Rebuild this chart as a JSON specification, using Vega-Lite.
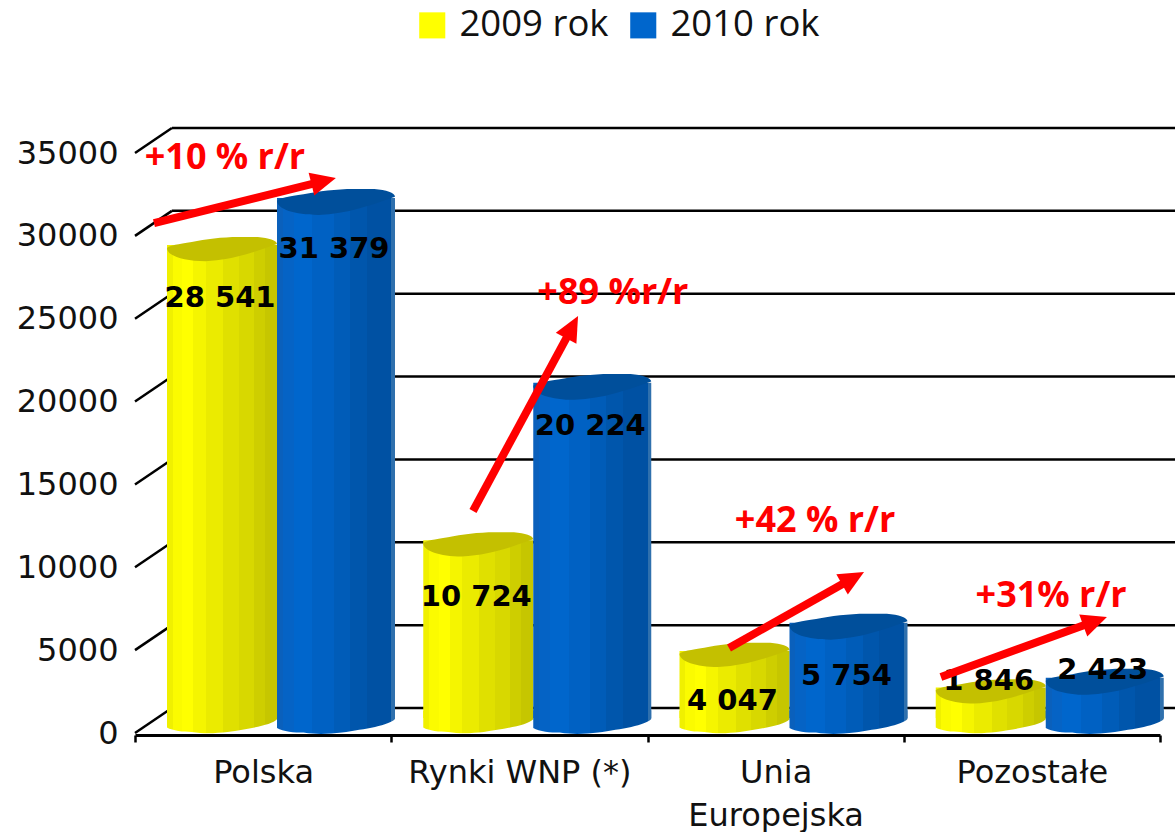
{
"$schema":"https://vega.github.io/schema/vega-lite/v6.json",
"width":1025,"height":580,
"autosize":{"type":"none"},
"padding":{"left":135,"top":153,"right":15,"bottom":99},
"background":"white",
"config":{"view":{"stroke":null}},
"datasets":{
"bars":[
{"rynek":"Polska","seria":"2009 rok","wartosc":28541,"etykieta":"28 541","etykietaY":26230},
{"rynek":"Polska","seria":"2010 rok","wartosc":31379,"etykieta":"31 379","etykietaY":29180},
{"rynek":"Rynki WNP (*)","seria":"2009 rok","wartosc":10724,"etykieta":"10 724","etykietaY":8180},
{"rynek":"Rynki WNP (*)","seria":"2010 rok","wartosc":20224,"etykieta":"20 224","etykietaY":18530},
{"rynek":"Unia Europejska","seria":"2009 rok","wartosc":4047,"etykieta":"4 047","etykietaY":1925},
{"rynek":"Unia Europejska","seria":"2010 rok","wartosc":5754,"etykieta":"5 754","etykietaY":3430},
{"rynek":"Pozostałe","seria":"2009 rok","wartosc":1846,"etykieta":"1 846","etykietaY":3130},
{"rynek":"Pozostałe","seria":"2010 rok","wartosc":2423,"etykieta":"2 423","etykietaY":3790}
],
"grid":[{"v":0},{"v":5000},{"v":10000},{"v":15000},{"v":20000},{"v":25000},{"v":30000},{"v":35000}],
"arrows":[
{"x0":0.0741,"y0":30775,"x1":0.716,"y1":33229,"xt":0.784,"yt":33490,"kat":76,"tekst":"+10 % r/r","xl":0.351,"yl":34700},
{"x0":1.319,"y0":13396,"x1":1.696,"y1":24196,"xt":1.729,"yt":25162,"kat":28.3,"tekst":"+89 %r/r","xl":1.865,"yl":26560},
{"x0":2.318,"y0":5129,"x1":2.782,"y1":9172,"xt":2.845,"yt":9715,"kat":60.6,"tekst":"+42 % r/r","xl":2.654,"yl":12800},
{"x0":3.145,"y0":3379,"x1":3.727,"y1":6637,"xt":3.793,"yt":7000,"kat":70,"tekst":"+31% r/r","xl":3.575,"yl":8270}
]
},
"resolve":{"scale":{"x":"independent"},"axis":{"x":"independent"}},
"layer":[
{"data":{"name":"grid"},
"layer":[
{"mark":{"type":"rule","color":"black","strokeWidth":2.5,"yOffset":-25},
"encoding":{"x":{"datum":0.144,"type":"quantitative","scale":{"domain":[0,4],"nice":false,"zero":false},"axis":null},"x2":{"datum":4.06},
"y":{"field":"v","type":"quantitative","title":null,"scale":{"domain":[0,35000],"nice":false},
"axis":{"values":[0,5000,10000,15000,20000,25000,30000,35000],"format":"d","domain":false,"ticks":false,"grid":false,"labelPadding":17,"labelFont":"DejaVu Sans","labelFontSize":32,"labelColor":"#111111","title":null}}}},
{"mark":{"type":"rule","color":"black","strokeWidth":2.5,"y2Offset":-25},
"encoding":{"x":{"datum":0,"type":"quantitative"},"x2":{"datum":0.144},"y":{"field":"v","type":"quantitative"},"y2":{"field":"v"}}}
]},
{"data":{"name":"bars"},
"encoding":{
"x":{"field":"rynek","type":"nominal","sort":["Polska","Rynki WNP (*)","Unia Europejska","Pozostałe"],
"scale":{"paddingInner":0,"paddingOuter":0},
"axis":{"title":null,"orient":"bottom","labelAngle":0,"offset":2,"domainColor":"black","domainWidth":3,"tickColor":"black","tickWidth":2.5,"tickSize":7,"tickBand":"extent","labelFont":"DejaVu Sans","labelFontSize":32,"labelColor":"#111111","labelPadding":15,"labelLimit":400,"labelLineHeight":43,"labelBaseline":"top","labelExpr":"datum.value=='Unia Europejska'?['Unia','Europejska']:datum.label"}},
"xOffset":{"field":"seria","type":"nominal","scale":{"domain":["2009 rok","2010 rok"],"range":[30,258],"paddingInner":0,"paddingOuter":0}}
},
"layer":[
{"mark":{"type":"bar","opacity":0},
"encoding":{"y":{"field":"wartosc","type":"quantitative"},
"color":{"field":"seria","type":"nominal","scale":{"domain":["2009 rok","2010 rok"],"range":["#ffff00","#0066cc"]},
"legend":{"title":null,"orient":"none","legendX":279,"legendY":-146,"direction":"horizontal","symbolType":"square","symbolSize":680,"symbolOpacity":1,"symbolStrokeWidth":0,"labelFont":"Open Sans","labelFontSize":36.5,"labelLimit":300,"labelColor":"#111111","labelOffset":9,"columnPadding":16,"padding":0}}}},
{"transform":[{"filter":"datum.seria=='2009 rok'"}],
"mark":{"type":"point","filled":true,"opacity":1,"yOffset":-11,"size":12100,"shape":"M-1,-0.2 L-1,0.1 C-0.9,0.16 -0.7,0.18 -0.55,0.18 C-0.3,0.22 -0.1,0.2 0.1,0.18 C0.5,0.12 0.9,0.06 1,-0.05 L1,-0.2 Z",
"fill":{"gradient":"linear","x1":0,"y1":0,"x2":1,"y2":0,"stops":[{"offset":0,"color":"#f0f000"},{"offset":0.05,"color":"#f0f000"},{"offset":0.05,"color":"#fbfb00"},{"offset":0.14,"color":"#fbfb00"},{"offset":0.14,"color":"#ffff00"},{"offset":0.24,"color":"#ffff00"},{"offset":0.24,"color":"#f5f500"},{"offset":0.35,"color":"#f5f500"},{"offset":0.35,"color":"#ebeb00"},{"offset":0.51,"color":"#ebeb00"},{"offset":0.51,"color":"#e0e000"},{"offset":0.65,"color":"#e0e000"},{"offset":0.65,"color":"#d8d800"},{"offset":0.79,"color":"#d8d800"},{"offset":0.79,"color":"#cece00"},{"offset":0.89,"color":"#cece00"},{"offset":0.89,"color":"#c6c600"},{"offset":1,"color":"#c6c600"}]}},
"encoding":{"y":{"datum":0,"type":"quantitative"}}},
{"transform":[{"filter":"datum.seria=='2009 rok'"}],
"mark":{"type":"bar","width":110,"yOffset":-15,"y2Offset":-11,
"fill":{"gradient":"linear","x1":0,"y1":0,"x2":1,"y2":0,"stops":[{"offset":0,"color":"#f0f000"},{"offset":0.05,"color":"#f0f000"},{"offset":0.05,"color":"#fbfb00"},{"offset":0.14,"color":"#fbfb00"},{"offset":0.14,"color":"#ffff00"},{"offset":0.24,"color":"#ffff00"},{"offset":0.24,"color":"#f5f500"},{"offset":0.35,"color":"#f5f500"},{"offset":0.35,"color":"#ebeb00"},{"offset":0.51,"color":"#ebeb00"},{"offset":0.51,"color":"#e0e000"},{"offset":0.65,"color":"#e0e000"},{"offset":0.65,"color":"#d8d800"},{"offset":0.79,"color":"#d8d800"},{"offset":0.79,"color":"#cece00"},{"offset":0.89,"color":"#cece00"},{"offset":0.89,"color":"#c6c600"},{"offset":1,"color":"#c6c600"}]}},
"encoding":{"y":{"field":"wartosc","type":"quantitative"}}},
{"transform":[{"filter":"datum.seria=='2009 rok'"}],
"mark":{"type":"point","filled":true,"opacity":1,"fill":"#c4c000","yOffset":-11,"size":12100,"shape":"M-1,-0.02 C-0.95,-0.07 -0.8,-0.09 -0.55,-0.13 C-0.3,-0.18 0,-0.22 0.3,-0.22 L0.65,-0.22 C0.85,-0.2 1,-0.16 1,-0.09 C0.6,0.05 0.2,0.2 -0.3,0.22 C-0.7,0.22 -1,0.12 -1,-0.02 Z"},
"encoding":{"y":{"field":"wartosc","type":"quantitative"}}},
{"transform":[{"filter":"datum.seria=='2010 rok'"}],
"mark":{"type":"point","filled":true,"opacity":1,"yOffset":-11,"size":13924,"shape":"M-1,-0.2 L-1,0.1 C-0.9,0.16 -0.7,0.18 -0.55,0.18 C-0.3,0.22 -0.1,0.2 0.1,0.18 C0.5,0.12 0.9,0.06 1,-0.05 L1,-0.2 Z",
"fill":{"gradient":"linear","x1":0,"y1":0,"x2":1,"y2":0,"stops":[{"offset":0,"color":"#0a60bc"},{"offset":0.05,"color":"#0a60bc"},{"offset":0.05,"color":"#0563c5"},{"offset":0.14,"color":"#0563c5"},{"offset":0.14,"color":"#0066cc"},{"offset":0.3,"color":"#0066cc"},{"offset":0.3,"color":"#0061c3"},{"offset":0.48,"color":"#0061c3"},{"offset":0.48,"color":"#005cb8"},{"offset":0.62,"color":"#005cb8"},{"offset":0.62,"color":"#0056ac"},{"offset":0.76,"color":"#0056ac"},{"offset":0.76,"color":"#0051a3"},{"offset":0.97,"color":"#0051a3"},{"offset":0.97,"color":"#2f70ad"},{"offset":1,"color":"#2f70ad"}]}},
"encoding":{"y":{"datum":0,"type":"quantitative"}}},
{"transform":[{"filter":"datum.seria=='2010 rok'"}],
"mark":{"type":"bar","width":118,"yOffset":-15,"y2Offset":-11,
"fill":{"gradient":"linear","x1":0,"y1":0,"x2":1,"y2":0,"stops":[{"offset":0,"color":"#0a60bc"},{"offset":0.05,"color":"#0a60bc"},{"offset":0.05,"color":"#0563c5"},{"offset":0.14,"color":"#0563c5"},{"offset":0.14,"color":"#0066cc"},{"offset":0.3,"color":"#0066cc"},{"offset":0.3,"color":"#0061c3"},{"offset":0.48,"color":"#0061c3"},{"offset":0.48,"color":"#005cb8"},{"offset":0.62,"color":"#005cb8"},{"offset":0.62,"color":"#0056ac"},{"offset":0.76,"color":"#0056ac"},{"offset":0.76,"color":"#0051a3"},{"offset":0.97,"color":"#0051a3"},{"offset":0.97,"color":"#2f70ad"},{"offset":1,"color":"#2f70ad"}]}},
"encoding":{"y":{"field":"wartosc","type":"quantitative"}}},
{"transform":[{"filter":"datum.seria=='2010 rok'"}],
"mark":{"type":"point","filled":true,"opacity":1,"fill":"#004f9b","yOffset":-11,"size":13924,"shape":"M-1,-0.02 C-0.95,-0.07 -0.8,-0.09 -0.55,-0.13 C-0.3,-0.18 0,-0.22 0.3,-0.22 L0.65,-0.22 C0.85,-0.2 1,-0.16 1,-0.09 C0.6,0.05 0.2,0.2 -0.3,0.22 C-0.7,0.22 -1,0.12 -1,-0.02 Z"},
"encoding":{"y":{"field":"wartosc","type":"quantitative"}}},
{"mark":{"type":"text","dx":-2,"font":"DejaVu Sans","fontWeight":"bold","fontSize":29,"color":"#000000"},
"encoding":{"y":{"field":"etykietaY","type":"quantitative"},"text":{"field":"etykieta"}}}
]},
{"data":{"name":"arrows"},
"layer":[
{"mark":{"type":"rule","color":"#ff0000","strokeWidth":8},
"encoding":{"x":{"field":"x0","type":"quantitative","scale":{"domain":[0,4],"nice":false,"zero":false},"axis":null},"x2":{"field":"x1"},"y":{"field":"y0","type":"quantitative"},"y2":{"field":"y1"}}},
{"mark":{"type":"point","filled":true,"opacity":1,"fill":"#ff0000","size":1296,"shape":"M0,0 L0.65,1.4 L-0.65,1.4 Z"},
"encoding":{"x":{"field":"xt","type":"quantitative"},"y":{"field":"yt","type":"quantitative"},"angle":{"field":"kat","type":"quantitative","scale":null}}},
{"mark":{"type":"text","font":"Open Sans","fontWeight":"bold","fontSize":36,"color":"#ff0000"},
"encoding":{"x":{"field":"xl","type":"quantitative"},"y":{"field":"yl","type":"quantitative"},"text":{"field":"tekst"}}}
]}
]
}
